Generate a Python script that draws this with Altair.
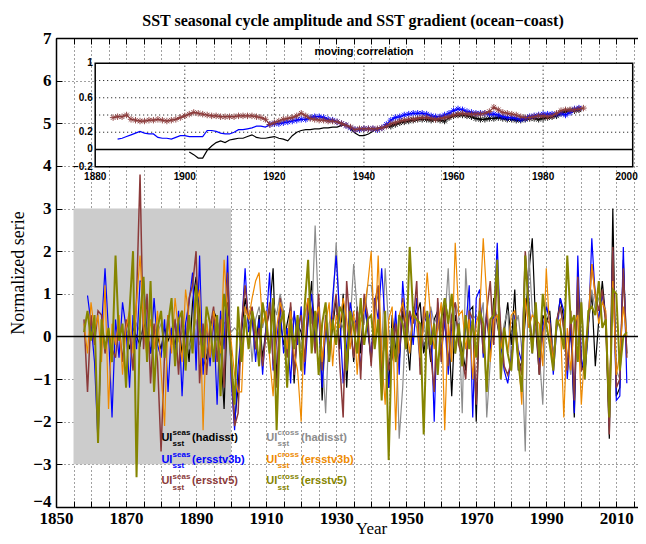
import altair as alt
import pandas as pd

# ---------------- main normalized series ----------------
ERSST_START = 1858
V3B_SEAS_START = 1859
HAD_START = 1870

seas_ersstv3b = [0.96,
    0.3, -0.6, -2.5, 0.2, 1.6, 0.1, -1.9, 0.4, -0.5, 0.8,
    0.2, -1.2, 0.5, -0.3, 1.3, 1.3, 0.1, -0.4, 0.9, -0.2,
    -0.5, 0.4, -1.3, 0.2, -0.4, 0.6, -1.4, 0.3, 0.8, 1.5,
    -0.8, 1.9, -0.9, 0.3, -0.7, 0.5, -1.6, 0.6, -0.3, 1.9,
    -1.0, -2.2, -0.7, 0.2, 1.6, 0.1, 0.5, -0.6, 0.4, -0.9,
    0.3, 1.5, -0.8, -0.1, 0.7, -0.4, 0.2, -1.1, 0.6, -0.2,
    0.7, -0.9, 0.4, 1.0, -0.3, 0.6, -1.2, 0.3, -0.6, 0.9,
    1.9, 0.5, -1.1, -0.2, 0.8, 0.3, 0.4, -0.8, 0.8, 0.2,
    -0.5, 0.9, 0.4, 1.6, 0.3, -1.2, -0.4, 0.6, -0.9, 1.3,
    0.2, 0.6, -0.2, 0.9, -0.7, 0.5, 0.3, 0.6, -2.0, 0.8,
    -0.4, 0.4, -0.9, 0.3, -0.4, 0.3, -0.6, 0.2, 1.2, -1.9,
    0.9, 1.1, -0.5, 0.6, -0.3, 0.4, 2.2, -0.2, -0.8, -1.1,
    -0.5, 0.5, -0.3, -0.6, 1.9, 0.9, -0.4, 0.7, -0.7, 0.2,
    0.7, 0.4, -0.9, 0.2, 0.9, 0.6, -1.0, 0.3, -1.8, 1.9,
    -0.5, -0.9, 0.1, 2.3, 0.9, 0.4, 1.0, 0.5, -2.1, 2.0,
    -1.5, -1.4, 2.1, -1.1]

seas_ersstv5 = [0.4, -1.3,
    0.5, -0.2, 0.6, 0.5, -0.4, 0.1, -0.3, -0.5, 0.3, -0.6,
    0.4, 0.1, -0.8, 0.9, 3.8, -0.3, 1.0, -1.1, 0.3, -0.6,
    -2.7, -0.4, 0.5, -0.2, 0.4, -0.9, 0.6, -0.5, 0.9, 1.2,
    2.0, -1.1, 0.3, -0.9, 0.2, 0.7, -0.6, 0.4, -1.2, 1.5,
    -0.7, -2.1, -1.8, 0.3, 1.2, 0.4, 0.7, -0.3, 0.2, -0.7,
    0.1, 0.8, -0.6, -1.2, 0.9, 0.3, -0.5, 0.8, -0.9, 0.2,
    0.5, -0.6, 0.9, 0.6, -0.4, 1.0, -0.8, 0.5, -0.3, 0.4,
    1.0, -0.6, -1.9, 1.3, 0.2, -0.5, 0.6, -1.0, 1.0, 0.5,
    -0.7, 0.8, 1.2, -1.0, 0.4, -0.8, -0.5, 0.3, -0.4, 0.9,
    -0.2, 0.6, 0.3, 1.3, -0.9, 0.7, 0.3, -0.4, -1.3, 0.9,
    -0.6, 0.7, -0.7, 0.5, 0.8, -0.2, -0.5, -1.0, 0.6, 0.4,
    -1.6, 0.9, -0.4, 0.6, 1.3, -0.2, 1.5, 0.2, -0.7, -0.9,
    -0.6, 0.3, -0.5, -0.9, 2.0, 0.7, -0.2, 0.5, -0.9, 0.1,
    0.4, 0.3, -0.7, 0.4, 0.7, 0.2, -0.8, 0.6, -1.5, 1.4,
    -0.8, -0.7, 0.3, 1.7, 1.0, 0.6, 1.1, 0.3, -2.3, 2.1,
    -1.2, -1.0, 1.6, -0.5]

cross_ersstv3b = [0.3, -0.4,
    0.8, 0.1, 0.5, -0.6, 1.2, -1.7, 0.3, -0.2, 0.5, -0.9,
    0.2, 0.6, -0.4, 0.8, 1.9, 0.3, -0.5, 0.4, -0.3, 0.6,
    -0.8, -2.1, 0.5, -0.4, 0.9, 0.1, -0.6, 1.1, 0.4, -0.3,
    0.7, 1.1, -2.2, 0.4, -0.5, 0.6, 0.2, -0.4, 1.8, 0.5,
    -0.1, -0.9, -1.3, -1.3, 0.7, 0.4, 0.9, 1.3, 1.5, 0.3,
    0.6, -0.5, -1.4, 0.2, 0.8, 0.5, -0.3, 0.6, -0.4, -0.8,
    -2.0, 0.5, 0.9, -0.2, 0.4, 0.7, -0.6, 0.3, 0.8, -0.7,
    0.5, 0.2, 0.9, 0.4, -0.3, 0.6, -0.9, 0.4, 0.6, 1.2,
    2.0, -0.2, 1.9, -0.5, -1.6, 0.4, 0.7, -2.2, 0.5, 0.8,
    0.3, -0.4, 0.6, 0.4, -0.5, 0.3, 1.5, 0.4, -0.3, 0.2,
    0.8, -2.2, 0.3, -0.6, 2.2, 0.5, 0.6, -0.3, 0.4, -1.0,
    0.3, 0.6, 2.3, 0.9, -0.6, 0.4, 0.5, -0.3, 0.2, -0.4,
    0.5, 0.6, -0.4, -1.6, 0.9, 0.2, 0.5, 0.4, 0.3, -0.7,
    1.6, 0.1, -0.6, 0.3, 0.4, -1.9, 0.2, -0.8, 0.3, 0.5,
    -1.6, -0.3, 0.4, 1.7, 0.9, 0.3, 0.8, 0.6, -1.6, 1.3,
    -0.9, -0.4, 0.7, 0.0]

cross_ersstv5 = [0.1, 0.6,
    -0.1, 0.5, -2.5, 0.4, -0.3, 0.2, -0.6, 1.9, -0.1, 0.3,
    -1.2, 0.6, 2.0, -3.3, 0.4, 1.4, -0.6, 1.3, -1.3, 0.2,
    0.6, -0.5, 0.3, 0.9, -0.7, 0.4, 0.6, -0.8, 0.5, -0.4,
    1.2, 0.2, -0.5, 0.7, 0.3, -0.6, 0.5, -1.4, 1.0, 0.4,
    -0.5, -1.6, 0.7, -0.6, 0.5, -0.3, 0.6, 0.2, -0.7, 0.8,
    0.3, -0.4, 0.9, -2.2, 0.3, 0.6, -1.2, 0.4, -0.3, 0.5,
    -0.8, 0.7, 1.8, -0.4, 0.6, -0.9, 0.3, 0.8, -0.6, 0.4,
    -0.2, 0.7, 0.5, -0.8, 0.6, 0.2, -0.4, 0.9, -0.2, 0.4,
    0.5, -0.3, 0.4, -1.5, 0.6, -2.9, 0.2, -0.6, 0.5, 0.3,
    -0.3, 2.1, 0.5, 0.4, 0.3, -2.3, 0.6, -0.2, 0.3, -0.9,
    0.4, 0.9, 0.3, 1.0, -0.4, 0.3, -0.7, 0.5, -0.3, 0.4,
    -0.5, 0.6, 0.3, -1.3, 0.4, 0.5, 1.8, -1.0, 0.2, -0.4,
    -0.8, 0.4, -0.6, -1.3, 1.9, 0.6, -0.4, 0.8, -0.5, 1.0,
    0.3, -0.2, -0.8, 0.4, 0.2, -0.3, 1.9, 0.3, 0.5, -0.6,
    0.8, -1.0, 0.6, 0.7, 0.5, 1.3, 0.2, 0.4, -1.9, 1.1,
    1.0, -0.8, 0.0, 0.1]

seas_hadisst = [
    0.1, -0.3, 0.2, 0.0, -0.2, 0.3, 0.1, -0.4, 0.2, 0.0,
    -0.3, 0.2, -0.1, 0.1, -0.2, 0.3, -0.4, 0.2, -0.6, 0.8,
    1.4, 0.6, -0.7, -0.5, 0.2, 0.6, 0.4, -0.2, -1.7, 0.8,
    -0.4, -2.0, -1.2, 0.1, 0.9, 0.3, 0.4, -0.3, 0.5, -0.5,
    0.2, 0.6, 1.6, -1.0, 0.4, -0.2, 0.3, 0.7, -1.1, 0.3,
    0.1, -0.5, 0.4, 1.3, -0.2, 0.8, -1.5, 0.4, -0.4, 0.2,
    0.9, -0.3, 1.0, -1.2, 0.5, -0.6, 0.7, -0.4, 0.9, 0.2,
    -0.6, 0.7, 1.0, -0.9, 0.2, -1.2, 0.5, -0.3, -0.6, 0.6,
    0.1, -0.8, 0.7, 0.5, 0.8, -0.4, 0.2, -0.6, 0.4, 0.6,
    -0.3, 0.9, 0.4, -1.4, 0.5, 0.1, -0.3, -0.8, 0.6, 0.7,
    -2.0, 0.8, -0.2, 0.5, -0.4, 0.9, 0.3, -0.2, 0.1, 0.8,
    -0.2, 1.1, -0.8, -0.6, 0.4, 1.5, 2.3, 0.2, -0.9, 0.5,
    0.3, 0.6, -0.5, 0.3, 0.9, 0.4, -0.7, 0.2, -1.9, 1.2,
    -0.6, -0.9, 0.3, 1.0, -0.7, 0.4, 1.3, 0.4, -2.4, 3.0,
    -1.4, -1.2, 1.8, -0.4]

cross_hadisst = [
    0.2, 0.0, -0.2, 0.3, 0.1, -0.1, 0.2, 0.0, -0.3, 0.1,
    0.3, -0.2, 0.0, 0.2, 0.4, -0.1, 0.1, 0.3, -0.3, 0.0,
    0.4, -0.2, 0.1, -0.4, 0.3, 0.2, -0.1, 0.5, 0.3, 0.4,
    0.1, 0.2, 0.1, -0.2, 0.6, 0.5, -0.6, 0.4, 0.7, 0.2,
    0.6, -0.3, 0.8, 0.5, 1.0, 0.6, -0.4, 0.3, 0.5, 0.2,
    -0.3, 0.4, 0.9, 0.3, 2.6, 0.5, -0.4, -1.8, 0.3, 0.6,
    2.2, 0.4, 0.2, -0.5, 0.3, 1.7, 0.6, 0.4, 0.3, 1.2,
    1.2, 0.5, 1.1, -0.3, 1.6, 0.2, -0.5, 0.4, -2.4, -1.2,
    0.6, -0.1, 0.5, 0.2, -0.6, 0.4, -0.3, 0.7, 0.3, 0.5,
    -0.2, 0.3, 1.6, -0.4, 0.8, 0.5, -1.8, 1.6, 0.2, 0.4,
    0.5, 0.3, 0.8, -1.9, -0.6, 0.6, 0.4, -0.2, 0.3, 0.6,
    -0.7, 0.2, 0.5, -0.3, -2.7, 2.0, 0.6, 0.2, -0.4, -1.6,
    0.8, 0.3, -0.4, 0.2, 0.7, 0.1, -0.4, -0.9, 0.5, -0.2,
    0.9, -0.5, 0.3, 1.1, 0.6, 0.9, 1.0, 0.3, -1.9, 1.8,
    -0.8, -1.0, 1.4, 0.0]

# ---------------- moving correlation (inset) ----------------
corr_had_start, corr_had_sig_from = 1901, 1946
corr_had = [-0.03, -0.06, -0.10, -0.10, -0.01, 0.04, 0.08, 0.10, 0.08,
    0.11, 0.12, 0.13, 0.13, 0.15, 0.17, 0.14, 0.13, 0.13, 0.14,
    0.15, 0.13, 0.12, 0.10, 0.16, 0.20, 0.22, 0.23, 0.23, 0.24,
    0.24, 0.25, 0.25, 0.26, 0.26, 0.28, 0.29, 0.24, 0.19, 0.16,
    0.16, 0.18, 0.21, 0.25, 0.25, 0.26, 0.27, 0.29, 0.31, 0.32,
    0.33, 0.34, 0.35, 0.35, 0.35, 0.34, 0.35, 0.34, 0.33, 0.37,
    0.39, 0.40, 0.40, 0.39, 0.38, 0.36, 0.35, 0.35, 0.36, 0.36,
    0.37, 0.36, 0.35, 0.35, 0.34, 0.34, 0.35, 0.36, 0.36, 0.35,
    0.36, 0.37, 0.38, 0.39, 0.42, 0.44, 0.45, 0.45, 0.46]

corr_v3b_start, corr_v3b_sig_from = 1885, 1919
corr_v3b = [0.12, 0.13, 0.15, 0.17, 0.19,
    0.21, 0.19, 0.18, 0.18, 0.14, 0.13, 0.13, 0.12, 0.14, 0.16,
    0.16, 0.15, 0.15, 0.15, 0.15, 0.22, 0.22, 0.21, 0.19, 0.18,
    0.18, 0.20, 0.23, 0.23, 0.24, 0.25, 0.27, 0.27, 0.26, 0.29,
    0.30, 0.30, 0.31, 0.32, 0.33, 0.34, 0.35, 0.35, 0.37, 0.38,
    0.38, 0.37, 0.35, 0.34, 0.32, 0.30, 0.28, 0.25, 0.23, 0.23,
    0.24, 0.24, 0.24, 0.23, 0.25, 0.29, 0.34, 0.37, 0.38, 0.40,
    0.41, 0.42, 0.42, 0.42, 0.41, 0.39, 0.38, 0.38, 0.40, 0.42,
    0.45, 0.47, 0.46, 0.44, 0.43, 0.42, 0.42, 0.42, 0.41, 0.41,
    0.40, 0.38, 0.37, 0.37, 0.36, 0.35, 0.36, 0.38, 0.39, 0.40,
    0.41, 0.41, 0.41, 0.41, 0.42, 0.40, 0.43, 0.47, 0.48]

corr_v5_start, corr_v5_sig_from = 1884, 1884
corr_v5 = [0.37, 0.38, 0.38, 0.40, 0.35, 0.34,
    0.33, 0.33, 0.34, 0.34, 0.35, 0.34, 0.33, 0.34, 0.35, 0.37,
    0.39, 0.41, 0.43, 0.42, 0.41, 0.40, 0.39, 0.39, 0.38, 0.38,
    0.38, 0.38, 0.39, 0.39, 0.39, 0.39, 0.38, 0.37, 0.35, 0.29,
    0.31, 0.33, 0.35, 0.36, 0.37, 0.39, 0.42, 0.39, 0.36, 0.35,
    0.34, 0.34, 0.33, 0.33, 0.32, 0.30, 0.28, 0.26, 0.23, 0.24,
    0.24, 0.24, 0.24, 0.24, 0.25, 0.27, 0.30, 0.31, 0.33, 0.34,
    0.35, 0.35, 0.36, 0.37, 0.37, 0.36, 0.35, 0.36, 0.37, 0.38,
    0.40, 0.41, 0.42, 0.41, 0.41, 0.41, 0.41, 0.42, 0.44, 0.49,
    0.46, 0.43, 0.42, 0.41, 0.40, 0.38, 0.37, 0.37, 0.38, 0.39,
    0.39, 0.38, 0.39, 0.42, 0.45, 0.46, 0.46, 0.46, 0.47, 0.48]

# ---------------- ticks / labels ----------------
x_ticks = list(range(1850, 2020, 5))
y_ticks = list(range(-4, 8))
inset_x_ticks = [1880, 1900, 1920, 1940, 1960, 1980, 2000]
inset_y_ticks = [-0.2, 0, 0.2, 0.4, 0.6, 0.8, 1]
inset_y_labels = ["\u22120.2", "0", "0.2", "", "0.6", "", "1"]
inset_grid_x = [1900, 1920, 1940, 1960, 1980]
inset_grid_y = [0.2, 0.4, 0.6, 0.8]
box_years = [1855, 1900]
box_vals = [-3, 3]

legend_kinds = ["seas", "seas", "seas", "cross", "cross", "cross"]
legend_names = ["(hadisst)", "(ersstv3b)", "(ersstv5)"] * 2

TITLE = "SST seasonal cycle amplitude and SST gradient (ocean\u2212coast)"

C_BLACK, C_BLUE, C_BROWN = "#000000", "#0000ff", "#8b3a3a"
C_GRAY, C_ORANGE, C_OLIVE = "#8c8c8c", "#ee8a00", "#858500"

SERIF = "Liberation Serif"
SANS = "Liberation Sans"

W, H = 582, 469
PX_PER_YEAR = 3.502
xs = alt.Scale(domain=[1850, 1850 + W / PX_PER_YEAR], nice=False, zero=False)
ys = alt.Scale(domain=[-4, 7], nice=False, zero=False)


def series_df(start, vals):
    return pd.DataFrame({"year": list(range(start, start + len(vals))), "v": vals})


grid = dict(grid=True, gridColor="#222222", gridDash=[1, 3], gridWidth=1, gridOpacity=0.85)

main_x_axis = alt.Axis(
    values=x_ticks, format="d", labelExpr="datum.value % 20 == 10 ? datum.label : ''",
    ticks=False, domain=True, domainColor="black", domainWidth=1.5,
    labelFont=SERIF, labelFontSize=17, labelFontWeight="bold", labelColor="black",
    labelPadding=3, labelFlush=False, labelOverlap=False,
    title="Year", titleFont=SERIF, titleFontSize=17, titleFontWeight="normal",
    titleColor="black", titleX=315, titleY=26, titleAlign="center",
    titleBaseline="alphabetic", **grid)
main_y_axis = alt.Axis(
    values=y_ticks, format="d", ticks=False, domain=True, domainColor="black", domainWidth=1.5,
    labelFont=SERIF, labelFontSize=17, labelFontWeight="bold", labelColor="black",
    labelPadding=5, labelFlush=False, labelOverlap=False,
    labelOffset={"condition": {"test": "datum.value == -4", "value": -6}, "value": 0},
    title="Normalized serie", titleFont=SERIF, titleFontSize=18, titleFontWeight="normal",
    titleColor="black", titlePadding=5, **grid)

box = alt.Chart(pd.DataFrame({"x": [box_years[0]], "x2": [box_years[1]],
                              "y": [box_vals[0]], "y2": [box_vals[1]]})).mark_rect(
    color="#cccccc").encode(
    x=alt.X("x:Q", scale=xs, axis=main_x_axis), x2="x2",
    y=alt.Y("y:Q", scale=ys, axis=main_y_axis), y2="y2")

lines = []
for start, vals, col, w in [
        (HAD_START, seas_hadisst, C_BLACK, 1.2),
        (HAD_START, cross_hadisst, C_GRAY, 1.2),
        (V3B_SEAS_START, seas_ersstv3b, C_BLUE, 1.2),
        (ERSST_START, seas_ersstv5, C_BROWN, 1.5),
        (ERSST_START, cross_ersstv3b, C_ORANGE, 1.2),
        (ERSST_START, cross_ersstv5, C_OLIVE, 2.0)]:
    lines.append(alt.Chart(series_df(start, vals)).mark_line(
        color=col, strokeWidth=w, clip=True).encode(
        x=alt.X("year:Q", scale=xs, axis=None),
        y=alt.Y("v:Q", scale=ys, axis=None)))

zero_main = alt.Chart(pd.DataFrame({"v": [0]})).mark_rule(color="black", strokeWidth=1.5).encode(
    y=alt.Y("v:Q", scale=ys, axis=None))

# legend (text annotations)
col_year = {"seas": 1880.1, "cross": 1910.05}
row_val = [-2.45, -2.96, -3.47]
colors = [C_BLACK, C_BLUE, C_BROWN, C_GRAY, C_ORANGE, C_OLIVE]
leg_df = pd.DataFrame({
    "kind": legend_kinds, "name": legend_names, "color": colors,
    "x": [col_year[k] for k in legend_kinds],
    "y": [row_val[i % 3] for i in range(6)]})
leg_base = alt.Chart(leg_df).encode(
    x=alt.X("x:Q", scale=xs, axis=None), y=alt.Y("y:Q", scale=ys, axis=None),
    color=alt.Color("color:N", scale=None))
tfont = dict(font=SANS, fontWeight="bold", align="left", baseline="alphabetic")
leg_ui = leg_base.mark_text(text="UI", fontSize=11, **tfont)
leg_sup = leg_base.mark_text(fontSize=8, dx=11.2, dy=-5.7, **tfont).encode(text="kind:N")
leg_sub = leg_base.mark_text(text="sst", fontSize=8, dx=11.2, dy=5.3, **tfont)
leg_lab_s = leg_base.transform_filter("datum.kind == 'seas'").mark_text(
    fontSize=11, dx=30.7, **tfont).encode(text="name:N")
leg_lab_c = leg_base.transform_filter("datum.kind == 'cross'").mark_text(
    fontSize=11, dx=34.7, **tfont).encode(text="name:N")

# chart title as a text annotation centred over the frame
title_mark = alt.Chart(pd.DataFrame({"t": [TITLE]})).mark_text(
    font=SERIF, fontSize=16, fontWeight="bold", color="black", align="center",
    baseline="alphabetic").encode(
    x=alt.value(297), y=alt.value(-12), text="t:N")

# inward ticks (helper axes)
tick_df = pd.DataFrame({"year": [1850], "v": [0]})
tick_common = dict(labels=False, grid=False, ticks=True, tickSize=6,
                   tickColor="black", tickWidth=1, title=None)
ticks_bl = alt.Chart(tick_df).mark_point(opacity=0).encode(
    x=alt.X("year:Q", scale=xs, axis=alt.Axis(orient="top", offset=-H, values=x_ticks,
                                                domain=False, **tick_common)),
    y=alt.Y("v:Q", scale=ys, axis=alt.Axis(orient="right", offset=-W, values=y_ticks,
                                            domain=False, **tick_common)))
ticks_top = alt.Chart(tick_df).mark_point(opacity=0).encode(
    x=alt.X("year:Q", scale=xs, axis=alt.Axis(orient="bottom", offset=-H, values=x_ticks,
                                                domain=True, domainColor="black",
                                                domainWidth=1.5, **tick_common)),
    y=alt.Y("v:Q", scale=ys, axis=None))

main_group = alt.layer(box, *lines, zero_main, leg_ui, leg_sup, leg_sub, leg_lab_s,
                       leg_lab_c, title_mark, ticks_bl, ticks_top).resolve_axis(
    x="independent", y="independent")

# ---------------- inset ----------------
IX0, IX1, IY0, IY1 = 39.2, 576.7, 128.7, 25.3
xi = alt.Scale(domain=[1880, 2000], range=[IX0, IX1], nice=False, zero=False)
yi = alt.Scale(domain=[-0.2, 1], range=[IY0, IY1], nice=False, zero=False)

inset_bg = alt.Chart(pd.DataFrame({"x": [1880], "x2": [2000], "y": [-0.2], "y2": [1]})).mark_rect(
    fill="white", stroke="black", strokeWidth=1.5).encode(
    x=alt.X("x:Q", scale=xi, axis=None), x2="x2",
    y=alt.Y("y:Q", scale=yi, axis=None), y2="y2")

igrid_v = alt.Chart(pd.DataFrame({"year": inset_grid_x, "lo": -0.2, "hi": 1.0})).mark_rule(
    color="#000000", strokeDash=[1, 3], strokeWidth=1).encode(
    x=alt.X("year:Q", scale=xi, axis=None), y=alt.Y("lo:Q", scale=yi, axis=None), y2="hi:Q")
igrid_h = alt.Chart(pd.DataFrame({"v": inset_grid_y, "lo": 1880.0, "hi": 2000.0})).mark_rule(
    color="#000000", strokeDash=[1, 3], strokeWidth=1).encode(
    y=alt.Y("v:Q", scale=yi, axis=None), x=alt.X("lo:Q", scale=xi, axis=None), x2="hi:Q")
izero = alt.Chart(pd.DataFrame({"v": [0], "lo": [1880], "hi": [2000]})).mark_rule(
    color="black", strokeWidth=1.5).encode(
    y=alt.Y("v:Q", scale=yi, axis=None), x=alt.X("lo:Q", scale=xi, axis=None), x2="hi:Q")

# inset tick labels
ilab_font = dict(font=SANS, fontSize=10, fontWeight="bold", color="black")
ixlab_base = alt.Chart(pd.DataFrame({"year": inset_x_ticks, "lo": -0.2})).encode(
    x=alt.X("year:Q", scale=xi, axis=None), y=alt.Y("lo:Q", scale=yi, axis=None),
    text=alt.Text("year:Q", format="d"))
ixlab = ixlab_base.transform_filter("datum.year < 2000").mark_text(
    align="center", baseline="alphabetic", dy=13.5, **ilab_font)
ixlab_last = ixlab_base.transform_filter("datum.year >= 2000").mark_text(
    align="right", baseline="alphabetic", dy=13.5, dx=5, **ilab_font)
iylab = alt.Chart(pd.DataFrame({"v": inset_y_ticks, "lab": inset_y_labels, "x0": 1880})).mark_text(
    align="right", baseline="middle", dx=-2.5, **ilab_font).encode(
    x=alt.X("x0:Q", scale=xi, axis=None), y=alt.Y("v:Q", scale=yi, axis=None), text="lab:N")

ASTERISK = "M-1,0L1,0M0,-1L0,1M-0.7,-0.7L0.7,0.7M-0.7,0.7L0.7,-0.7"
inset_layers = []
for start, vals, sig_from, col in [
        (corr_had_start, corr_had, corr_had_sig_from, C_BLACK),
        (corr_v3b_start, corr_v3b, corr_v3b_sig_from, C_BLUE),
        (corr_v5_start, corr_v5, corr_v5_sig_from, C_BROWN)]:
    df = series_df(start, vals)
    base = alt.Chart(df).encode(x=alt.X("year:Q", scale=xi, axis=None),
                                y=alt.Y("v:Q", scale=yi, axis=None))
    inset_layers.append(base.mark_line(color=col, strokeWidth=1.2))
    inset_layers.append(base.transform_filter(f"datum.year >= {sig_from}").mark_point(
        shape=ASTERISK, size=42, filled=False, color=col, strokeWidth=1, opacity=0.9))

inset_title = alt.Chart(pd.DataFrame({"x": [1940], "y": [1], "t": ["moving correlation"]})).mark_text(
    font=SANS, fontSize=11, fontWeight="bold", color="black", align="center",
    baseline="alphabetic", dy=-8).encode(
    x=alt.X("x:Q", scale=xi, axis=None), y=alt.Y("y:Q", scale=yi, axis=None), text="t:N")

inset_group = alt.layer(inset_bg, igrid_v, igrid_h, izero, *inset_layers, inset_title,
                        ixlab, ixlab_last, iylab)

chart = alt.layer(main_group, inset_group).resolve_scale(
    x="independent", y="independent").properties(
    width=W, height=H,
    autosize=alt.AutoSizeParams(type="none"),
    padding={"left": 48, "top": 30, "right": 0, "bottom": 29},
).configure_view(stroke=None).configure(background="white")

chart.save("out.html", embed_options={"renderer": "svg", "actions": False})
